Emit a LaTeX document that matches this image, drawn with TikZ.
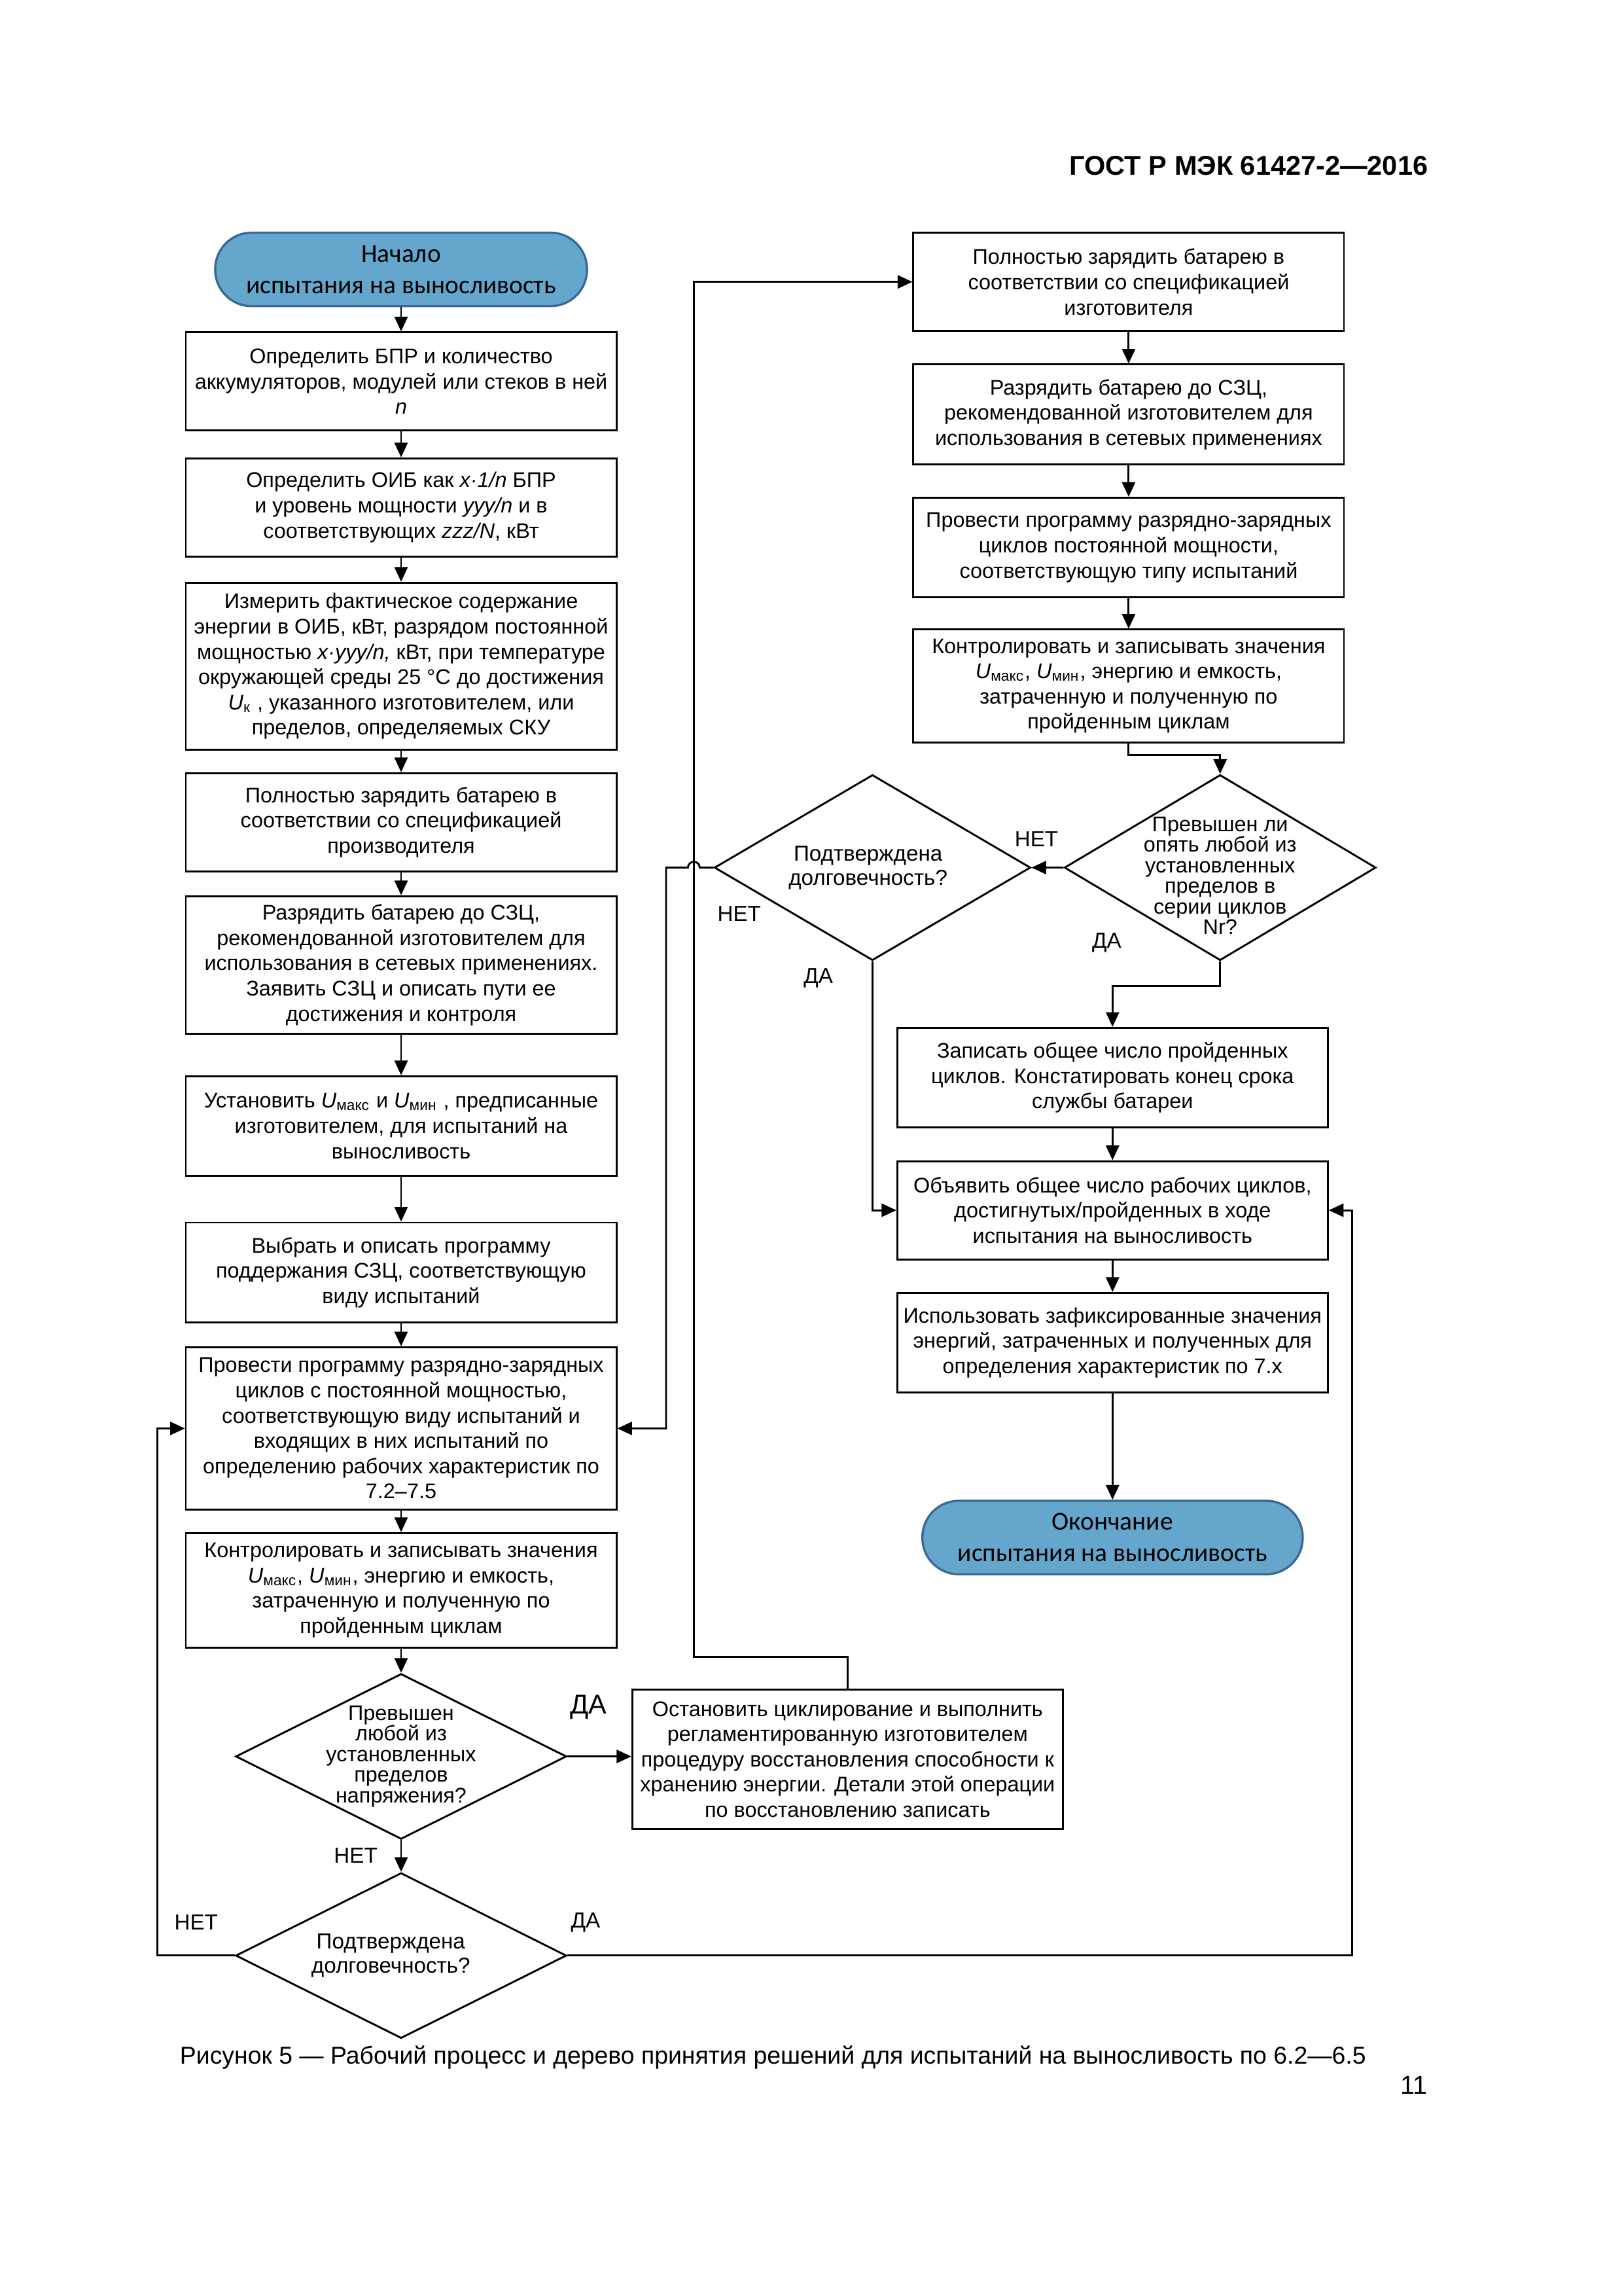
\documentclass[tikz,border=0pt]{standalone}
\usepackage{fontspec}
\setmainfont{Liberation Sans}
\newfontfamily\termfont{Carlito}
\usetikzlibrary{arrows.meta,shapes.geometric}

\definecolor{termfill}{RGB}{100,166,204}
\definecolor{termline}{RGB}{58,104,150}

\tikzset{
  box/.style={draw, line width=0.7pt, minimum width=5.57cm, align=center, inner sep=1pt, font=\fontsize{7.8}{9.3}\selectfont},
  term/.style={draw=termline, fill=termfill, line width=0.8pt, rounded corners=0.47cm, minimum height=0.95cm, align=center, font=\termfont\fontsize{9.5}{11.5}\selectfont},
  dia/.style={draw, diamond, line width=0.7pt, inner sep=0pt},
  diatext/.style={align=center, font=\fontsize{7.8}{7.6}\selectfont},
  lbl/.style={font=\fontsize{8}{9}\selectfont},
  flow/.style={-{Triangle[length=1.9mm,width=1.7mm]}, line width=0.7pt},
}

\begin{document}
\begin{tikzpicture}[x=0.018936cm, y=-0.018936cm]
  \useasboundingbox (0,0) rectangle (1109,1568);
  \node[anchor=east, font=\bfseries\fontsize{10}{12}\selectfont] (gost) at (982,113) {ГОСТ Р МЭК 61427-2—2016};

  % left column
  \node[term, minimum width=4.81cm] (start) at (274,184) {Начало\\испытания на выносливость};
  \node[box, minimum height=1.27cm] (b1) at (274,260.5) {Определить БПР и количество\\аккумуляторов, модулей или стеков в ней\\\textit{n}};
  \node[box, minimum height=1.27cm] (b2) at (274,346.5) {Определить ОИБ как \textit{x·1/n} БПР\\и уровень мощности \textit{yyy/n} и в\\соответствующих \textit{zzz/N}, кВт};
  \node[box, minimum height=2.16cm] (b3) at (274,455) {Измерить фактическое содержание\\энергии в ОИБ, кВт, разрядом постоянной\\мощностью \textit{x·yyy/n,} кВт, при температуре\\окружающей среды 25 °C до достижения\\\textit{U}\textsubscript{к} , указанного изготовителем, или\\пределов, определяемых СКУ};
  \node[box, minimum height=1.27cm] (b4) at (274,561.5) {Полностью зарядить батарею в\\соответствии со спецификацией\\производителя};
  \node[box, minimum height=1.78cm] (b5) at (274,659) {Разрядить батарею до СЗЦ,\\рекомендованной изготовителем для\\использования в сетевых применениях.\\Заявить СЗЦ и описать пути ее\\достижения и контроля};
  \node[box, minimum height=1.29cm] (b6) at (274,769) {Установить \textit{U}\textsubscript{макс} и \textit{U}\textsubscript{мин} , предписанные\\изготовителем, для испытаний на\\выносливость};
  \node[box, minimum height=1.29cm] (b7) at (274,869) {Выбрать и описать программу\\поддержания СЗЦ, соответствующую\\виду испытаний};
  \node[box, minimum height=2.10cm] (b8) at (274,975.5) {Провести программу разрядно-зарядных\\циклов с постоянной мощностью,\\соответствующую виду испытаний и\\входящих в них испытаний по\\определению рабочих характеристик по\\7.2–7.5};
  \node[box, minimum height=1.48cm] (b9) at (274,1086) {Контролировать и записывать значения\\\textit{U}\textsubscript{макс}, \textit{U}\textsubscript{мин}, энергию и емкость,\\затраченную и полученную по\\пройденным циклам};
  \node[dia, minimum width=4.28cm, minimum height=2.14cm] (d1) at (274,1199.5) {};
  \node[diatext] (d1t) at (d1) {Превышен\\любой из\\установленных\\пределов\\напряжения?};
  \node[dia, minimum width=4.28cm, minimum height=2.14cm] (d2) at (274,1335.5) {};
  \node[diatext, font=\fontsize{8}{9}\selectfont] (d2t) at (267,1335.5) {Подтверждена\\долговечность?};
  \node[box, minimum height=1.80cm] (rest) at (579,1201.5) {Остановить циклирование и выполнить\\регламентированную изготовителем\\процедуру восстановления способности к\\хранению энергии. Детали этой операции\\по восстановлению записать};

  % right column
  \node[box, minimum height=1.27cm] (r1) at (771,192.5) {Полностью зарядить батарею в\\соответствии со спецификацией\\изготовителя};
  \node[box, minimum height=1.29cm] (r2) at (771,283) {Разрядить батарею до СЗЦ,\\рекомендованной изготовителем для\\использования в сетевых применениях};
  \node[box, minimum height=1.29cm] (r3) at (771,374) {Провести программу разрядно-зарядных\\циклов постоянной мощности,\\соответствующую типу испытаний};
  \node[box, minimum height=1.46cm] (r4) at (771,468.5) {Контролировать и записывать значения\\\textit{U}\textsubscript{макс}, \textit{U}\textsubscript{мин}, энергию и емкость,\\затраченную и полученную по\\пройденным циклам};
  \node[dia, minimum width=4.03cm, minimum height=2.40cm] (dR) at (833.5,592.5) {};
  \node[diatext] (dRt) at (833.5,598) {Превышен ли\\опять любой из\\установленных\\пределов в\\серии циклов\\Nr?};
  \node[dia, minimum width=4.09cm, minimum height=2.40cm] (dL) at (596,592.5) {};
  \node[diatext, font=\fontsize{8}{9}\selectfont] (dLt) at (593,592.5) {Подтверждена\\долговечность?};
  \node[box, minimum height=1.29cm] (rec) at (760,736) {Записать общее число пройденных\\циклов. Констатировать конец срока\\службы батареи};
  \node[box, minimum height=1.27cm] (decl) at (760,826.5) {Объявить общее число рабочих циклов,\\достигнутых/пройденных в ходе\\испытания на выносливость};
  \node[box, minimum height=1.29cm] (use) at (760,917) {Использовать зафиксированные значения\\энергий, затраченных и полученных для\\определения характеристик по 7.x};
  \node[term, minimum width=4.92cm] (end) at (760,1050) {Окончание\\испытания на выносливость};

  % straight runs
  \foreach \a/\b in {start/b1,b1/b2,b2/b3,b3/b4,b4/b5,b5/b6,b6/b7,b7/b8,b8/b9,b9/d1,d1/d2,r1/r2,r2/r3,r3/r4,rec/decl,decl/use,use/end,dR/dL}
    \draw[flow] (\a) -- (\b);
  \draw[flow] (d1.east) -- (d1.east -| rest.west);
  \draw[flow] (r4.south) -- ++(0,8) -| (dR.north);
  \draw[flow] (dR.south) -- ++(0,17) -| (rec.north);
  \draw[flow] (dL.south) |- (decl.west);
  \draw[flow] (dL.west) -- (478,592.5) arc[start angle=0, end angle=180, radius=0.076cm] -- (455,592.5) |- (b8.east);
  \draw[flow] (rest.north) -- ++(0,-22) -- ++(-105,0) |- (r1.west);
  \draw[flow] (d2.west) -- ++(-53,0) |- (b8.west);
  \draw[flow] (d2.east) -- ++(536,0) |- (decl.east);

  % branch labels
  \node[lbl, font=\fontsize{10}{12}\selectfont] (da1) at (402,1166) {ДА};
  \node[lbl] (net1) at (243,1267) {НЕТ};
  \node[lbl] (net2) at (134,1313) {НЕТ};
  \node[lbl] (da2) at (400,1313) {ДА};
  \node[lbl] (net3) at (708,573) {НЕТ};
  \node[lbl] (net4) at (505,624) {НЕТ};
  \node[lbl] (da3) at (559,668) {ДА};
  \node[lbl] (da4) at (756,644) {ДА};

  \node[font=\fontsize{9}{11}\selectfont] (cap) at (528,1405) {Рисунок 5 — Рабочий процесс и дерево принятия решений для испытаний на выносливость по 6.2—6.5};
  \node[font=\fontsize{9.5}{11}\selectfont] (page) at (966,1424) {11};
\end{tikzpicture}
\end{document}
